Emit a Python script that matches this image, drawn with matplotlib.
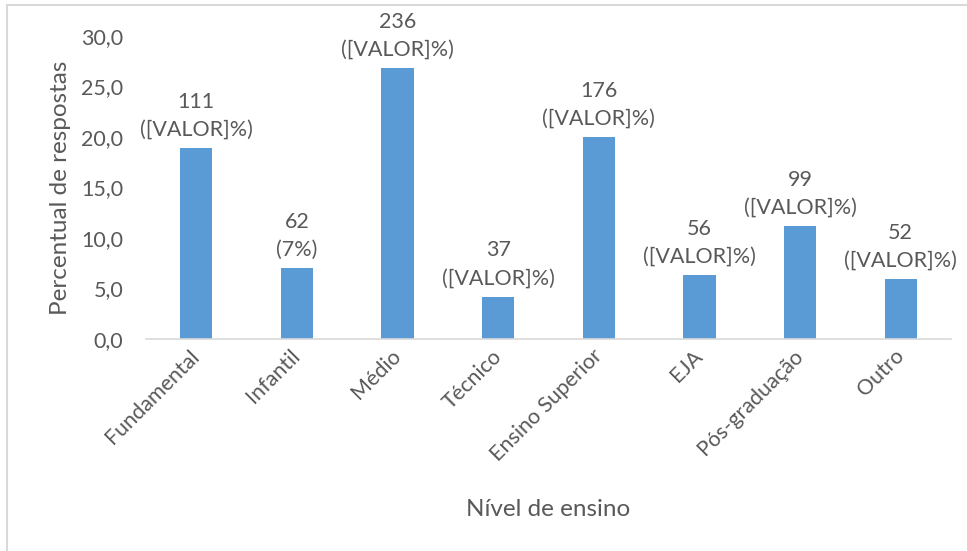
import matplotlib.pyplot as plt
from matplotlib.lines import Line2D
from matplotlib.transforms import ScaledTranslation

plt.rcParams['font.family'] = ['Lato', 'DejaVu Sans']

# data
categorias = ['Fundamental', 'Infantil', 'Médio', 'Técnico', 'Ensino Superior',
              'EJA', 'Pós-graduação', 'Outro']
percentual = [18.9, 7.0, 26.8, 4.2, 20.0, 6.3, 11.2, 5.9]
contagem = [111, 62, 236, 37, 176, 56, 99, 52]
rotulo_pct = ['[VALOR]', '7', '[VALOR]', '[VALOR]', '[VALOR]', '[VALOR]', '[VALOR]', '[VALOR]']
yticks = [0, 5, 10, 15, 20, 25, 30]

cinza = '#595959'
azul = '#5B9BD5'

fig = plt.figure(figsize=(9.67, 5.51), dpi=100)
ax = fig.add_axes([146 / 967, 1 - 339 / 551, (951 - 146) / 967, (339 - 36) / 551])

x = range(len(categorias))
ax.bar(x, percentual, width=0.32, color=azul, zorder=2)

for i, (p, c, r) in enumerate(zip(percentual, contagem, rotulo_pct)):
    ax.annotate(f'{c}\n({r}%)', (i, p), xytext=(0, 6), textcoords='offset points',
                ha='center', va='bottom', fontsize=15.5, color=cinza, linespacing=1.5)

ax.set_xlim(-0.5, len(categorias) - 0.5)
ax.set_ylim(0, 30)
ax.set_yticks(yticks)
ax.set_yticklabels([f'{v:.1f}'.replace('.', ',') for v in yticks])
ax.set_xticks(list(x))
ax.set_xticklabels(categorias, rotation=45, ha='right', rotation_mode='anchor')

ax.tick_params(axis='both', length=0, labelsize=15.5, colors=cinza)
ax.tick_params(axis='y', pad=16.5)
ax.tick_params(axis='x', pad=5)

# nudge the rotated labels a bit to the left, like the original
desloc = ScaledTranslation(-7 / 100, 0, fig.dpi_scale_trans)
for lbl in ax.get_xticklabels():
    lbl.set_transform(lbl.get_transform() + desloc)

for s in ['top', 'right', 'left']:
    ax.spines[s].set_visible(False)
ax.spines['bottom'].set_color('#D9D9D9')
ax.spines['bottom'].set_linewidth(1.2)

ax.set_ylabel('Percentual de respostas', fontsize=17.5, color=cinza, labelpad=7)
ax.set_xlabel('Nível de ensino', fontsize=17.5, color=cinza, labelpad=24)

# chart frame (left and top edges visible)
fig.add_artist(Line2D([7 / 967, 7 / 967], [0, 1 - 5 / 551], color='#D9D9D9', lw=1.5))
fig.add_artist(Line2D([7 / 967, 966 / 967], [1 - 5 / 551, 1 - 5 / 551], color='#D9D9D9', lw=1.5))

fig.savefig('out.png', dpi=100)
